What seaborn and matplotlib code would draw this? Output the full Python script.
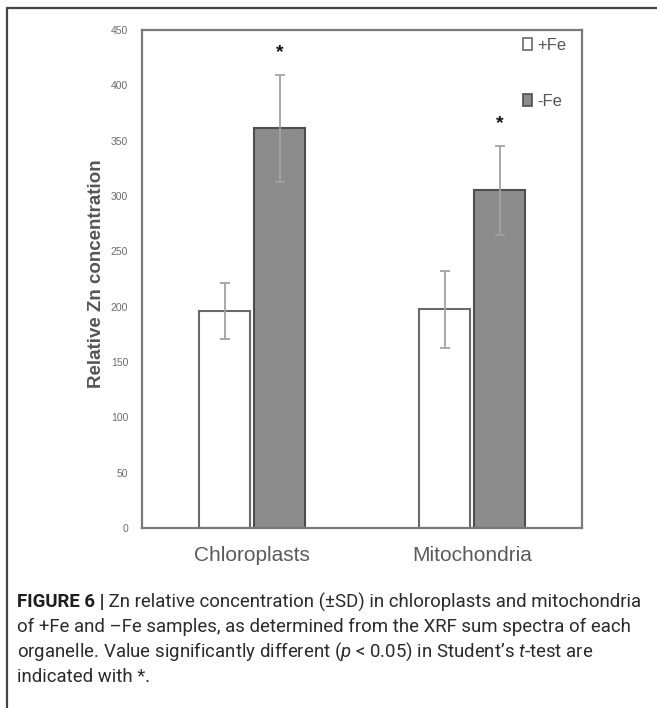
import pandas as pd
import seaborn as sns
import matplotlib.pyplot as plt
from matplotlib.lines import Line2D
from matplotlib.patches import Patch

# Relative Zn concentration per organelle and iron treatment (mean and SD)
organelles = ["Chloroplasts", "Mitochondria"]
treatments = ["+Fe", "-Fe"]
plus_fe = [196, 197.5]
minus_fe = [361, 305]
plus_fe_sd = [25.5, 34.5]
minus_fe_sd = [48.5, 40]
significant = [True, True]          # -Fe differs from +Fe (p < 0.05)
y_ticks = [0, 50, 100, 150, 200, 250, 300, 350, 400, 450]

df = pd.DataFrame({
    "Organelle": organelles * 2,
    "Treatment": [treatments[0]] * 2 + [treatments[1]] * 2,
    "Zn": plus_fe + minus_fe,
    "SD": plus_fe_sd + minus_fe_sd,
})

sns.set_theme(style="white")
plt.rcParams["font.family"] = ["Liberation Sans", "DejaVu Sans"]
plt.rcParams["mathtext.fontset"] = "custom"
plt.rcParams["mathtext.rm"] = "Roboto"
plt.rcParams["mathtext.bf"] = "Roboto:bold"
plt.rcParams["mathtext.it"] = "Roboto:italic"

W, H = 657, 708
fig = plt.figure(figsize=(W / 100, H / 100), dpi=100)
ax = fig.add_axes([142 / W, 1 - 528 / H, 440 / W, 498 / H])

fill = {"+Fe": "white", "-Fe": "#8c8c8c"}
edge = {"+Fe": "#6a6a6a", "-Fe": "#4e4e4e"}
sns.barplot(data=df, x="Organelle", y="Zn", hue="Treatment",
            order=organelles, hue_order=treatments, palette=fill,
            width=0.5, gap=0.08, errorbar=None, linewidth=1.5,
            legend=False, ax=ax)

sd_by_treatment = {"+Fe": plus_fe_sd, "-Fe": minus_fe_sd}
mean_by_treatment = {"+Fe": plus_fe, "-Fe": minus_fe}
for container, treat in zip(ax.containers, treatments):
    xs = []
    for bar in container:
        bar.set_edgecolor(edge[treat])
        xs.append(bar.get_x() + bar.get_width() / 2)
    ax.errorbar(xs, mean_by_treatment[treat], yerr=sd_by_treatment[treat],
                fmt="none", ecolor="#a3a3a3", elinewidth=1.3,
                capsize=3.3, capthick=1.3, zorder=3)
    if treat == "-Fe":
        for x, m, s, sig in zip(xs, minus_fe, minus_fe_sd, significant):
            if sig:
                ax.text(x, m + s + 20, "*", ha="center", va="center",
                        fontsize=14, fontweight="bold", color="#111111")

ax.set_xlim(-0.5, 1.5)
ax.set_ylim(0, 450)
ax.set_yticks(y_ticks)
ax.set_yticklabels([str(t) for t in y_ticks])
ax.tick_params(axis="y", length=0, pad=10, labelsize=7.5, labelcolor="#6b6b6b")
ax.tick_params(axis="x", length=0, pad=13, labelsize=15, labelcolor="#5a5a5a")
ax.set_xlabel("")
ax.set_ylabel("Relative Zn concentration", fontsize=13.5, fontweight="bold",
              color="#555555")
ax.yaxis.set_label_coords(-0.085, 0.51)
for sp in ax.spines.values():
    sp.set_visible(True)
    sp.set_color("#7a7a7a")
    sp.set_linewidth(1.6)

handles = [Patch(facecolor=fill[t], edgecolor=edge[t], linewidth=1.2) for t in treatments]
ax.legend(handles, treatments, loc="upper left", bbox_to_anchor=(0.85, 0.997),
          frameon=False, fontsize=12, labelcolor="#555555",
          handlelength=0.55, handleheight=0.7, handletextpad=0.3,
          labelspacing=2.45, borderaxespad=0)

# Frame lines around the figure panel
fig.add_artist(Line2D([7 / W, 1], [1 - 8 / H, 1 - 8 / H], color="#444444", lw=1.6))
fig.add_artist(Line2D([7 / W, 7 / W], [1 - 8 / H, 0], color="#444444", lw=1.6))

# Caption: bold figure tag followed by the regular text
cap_font = ["Roboto", "DejaVu Sans"]
cap_color = "#2b2b2b"
tag = "FIGURE 6 |"
caption = [
    " Zn relative concentration (±SD) in chloroplasts and mitochondria",
    "of +Fe and –Fe samples, as determined from the XRF sum spectra of each",
    r"organelle. Value significantly different ($\mathit{p}$ < 0.05) in Student’s $\mathit{t}$-test are",
    "indicated with *.",
]
x0 = 17 / W
renderer = fig.canvas.get_renderer()
tag_text = fig.text(x0, 1 - 602 / H, tag, ha="left", va="center", fontsize=12,
                    fontweight="bold", color="#1e1e1e", family=cap_font)
texts = [fig.text(x0, 1 - (602 + 25 * i) / H, line, ha="left", va="center",
                  fontsize=12, color=cap_color, family=cap_font)
         for i, line in enumerate(caption)]

# Size the caption so its first line spans the panel width
w_first = (tag_text.get_window_extent(renderer).width
           + texts[0].get_window_extent(renderer).width)
size = 12 * 622 / w_first
tag_text.set_fontsize(size)
for t in texts:
    t.set_fontsize(size)
tag_w = tag_text.get_window_extent(renderer).width
texts[0].set_x(x0 + tag_w / W)

fig.savefig("out.png", dpi=100)
